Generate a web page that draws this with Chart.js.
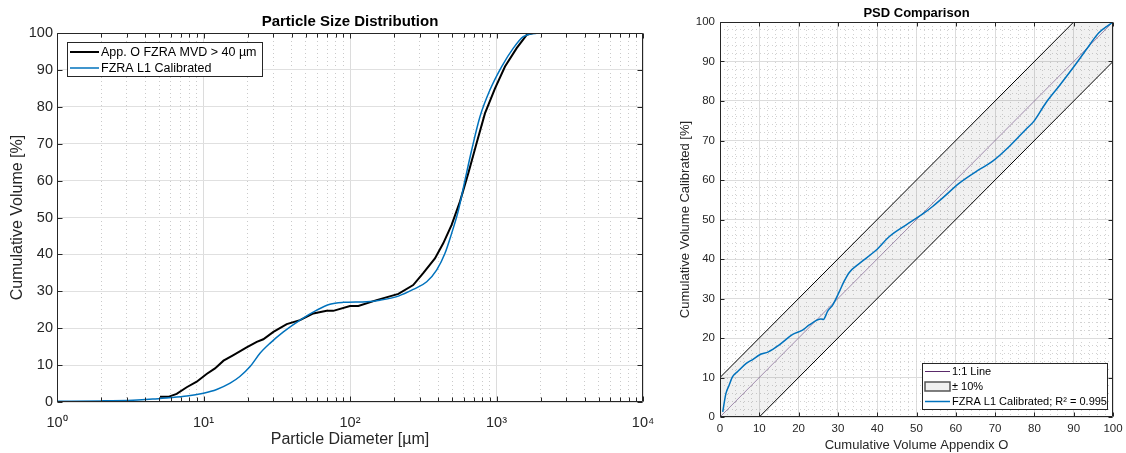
<!DOCTYPE html>
<html>
<head>
<meta charset="utf-8">
<script src="https://cdn.jsdelivr.net/npm/chart.js@4.4.1/dist/chart.umd.min.js"></script>
<style>
html, body { margin: 0; padding: 0; background: #fff; }
.panel { position: absolute; top: 0; height: 453px; }
#leftPanel { left: 0; width: 660px; }
#rightPanel { left: 660px; width: 466px; }
</style>
</head>
<body>
<div class="panel" id="leftPanel"><canvas id="psdChart"></canvas></div>
<div class="panel" id="rightPanel"><canvas id="cmpChart"></canvas></div>
<script>
// ---- left panel: cumulative volume vs particle diameter ----
const appODiameter = [5.05, 5.75, 6.56, 7.68, 8.99, 10.5, 11.98, 13.7, 16.0, 19.7, 23.1, 25.6, 30.0, 37.0, 45.6,
  56.2, 69.3, 76.9, 100, 114, 152, 214, 270, 316, 380, 433, 494, 563, 642, 731, 834, 977, 1143, 1373, 1607, 1783, 2443];
const appOVolume = [1.4, 1.4, 2.2, 4.0, 5.5, 7.6, 9.1, 11.2, 12.7, 14.8, 16.3, 17.0, 19.0, 21.1, 22.2,
  24.0, 24.7, 24.7, 26.0, 26.0, 27.6, 29.3, 31.7, 34.9, 38.9, 43.0, 48.0, 54.3, 62.0, 70.1, 78.2, 85.0, 90.9, 95.9, 99.5, 100, 100];

const calDiameter = [1, 2, 3.3, 4.5, 5.6, 7.7, 10, 12.3, 15.2, 17.7, 20.8, 24.3, 28.4, 35.1, 45.6, 59.3, 73, 90,
  130, 160, 214, 270, 334, 391, 445, 494, 550, 610, 677, 771, 903, 1085, 1303, 1524, 1881, 2443];
const calVolume = [0.2, 0.3, 0.5, 0.8, 1.1, 1.6, 2.4, 3.4, 5.1, 6.9, 9.6, 13.2, 15.9, 19.0, 22.2, 24.9, 26.5, 27.0,
  27.2, 27.6, 28.7, 30.5, 32.6, 35.8, 40.3, 45.7, 52.0, 60.2, 68.3, 77.3, 84.6, 90.9, 95.9, 99.0, 99.9, 100];

// ---- right panel: calibrated vs appendix O ----
const cmpAppendixO = [0.7, 1.5, 2.3, 3.2, 4.5, 6.6, 8.4, 10, 12.3, 15, 18.5, 21, 22.7, 25.7, 26.3, 27.4, 28.7, 30.4,
  31.5, 32.9, 35.5, 39.7, 43.1, 47.3, 51.6, 54.1, 56.6, 60.9, 65.9, 69.3, 73.6, 77.8, 79.9, 82.9, 86.3, 90.5, 93.9, 96.4, 100];
const cmpCalibrated = [1.3, 5.9, 8.0, 10.2, 11.5, 13.5, 14.6, 15.7, 16.5, 18.2, 20.9, 22.0, 23.3, 24.8, 24.7, 26.8, 28.4, 31.8,
  34.2, 36.6, 38.9, 42.2, 45.7, 48.6, 51.4, 53.3, 55.4, 59.2, 62.6, 64.7, 68.5, 72.8, 74.9, 79.5, 83.8, 89.3, 94.0, 97.3, 100];

const refLineX = [0, 100];
const refLineY = [0, 100];
const bandUpperY = [10, 110];
const bandLowerY = [-10, 90];

// ---- ticks ----
const decadeTicks = [1, 10, 100, 1000, 10000];
const decadeLabels = ['10⁰', '10¹', '10²', '10³', '10⁴'];
const pctTicks = [0, 10, 20, 30, 40, 50, 60, 70, 80, 90, 100];

const logTickValues = [];
decadeTicks.slice(0, -1).forEach(d => { for (let m = 1; m < 10; m++) logTickValues.push(m * d); });
logTickValues.push(10000);
const pctMinorTicks = [];
for (let v = 0; v <= 100; v += 2) pctMinorTicks.push(v);

Chart.defaults.font.family = "'Liberation Sans', Arial, Helvetica, sans-serif";
Chart.defaults.color = '#262626';
Chart.defaults.animation = false;

const toXY = (xs, ys) => xs.map((x, i) => ({ x, y: ys[i] }));

// keep plot area exactly where layout padding puts it (no extra room for edge labels)
const noEdgePadding = s => { s.paddingLeft = 0; s.paddingRight = 0; s.paddingTop = 0; s.paddingBottom = 0; };

// Box around the axes with inward tick marks on all four sides (MATLAB look)
const boxFrame = {
    id: 'boxFrame',
    afterDatasetsDraw(chart, args, opts) {
        const { ctx, chartArea: a, scales: { x, y } } = chart;
        const L = Math.round(a.left) + 0.5, R = Math.round(a.right) - 0.5;
        const T = Math.round(a.top) + 0.5, B = Math.round(a.bottom) - 0.5;
        ctx.save();
        ctx.strokeStyle = '#262626';
        ctx.lineWidth = 1;
        ctx.beginPath();
        x.ticks.forEach(t => {
            if (!t.major && !opts.minorTicks) return;
            const len = t.major ? opts.tickLength : opts.minorTickLength;
            const px = Math.round(x.getPixelForValue(t.value)) + 0.5;
            ctx.moveTo(px, B); ctx.lineTo(px, B - len);
            ctx.moveTo(px, T); ctx.lineTo(px, T + len);
        });
        y.ticks.forEach(t => {
            if (!t.major) return;
            const py = Math.round(y.getPixelForValue(t.value)) + 0.5;
            ctx.moveTo(L, py); ctx.lineTo(L + opts.tickLength, py);
            ctx.moveTo(R, py); ctx.lineTo(R - opts.tickLength, py);
        });
        ctx.rect(L, T, R - L, B - T);
        ctx.stroke();
        ctx.restore();
    }
};

// Boxed legend placed inside the plot area
const boxLegend = {
    id: 'boxLegend',
    afterDraw(chart, args, opts) {
        const { ctx, chartArea: a } = chart;
        const x = Math.round(opts.corner === 'topLeft' ? a.left + opts.offsetX : a.right - opts.offsetX - opts.width);
        const y = Math.round(opts.corner === 'topLeft' ? a.top + opts.offsetY : a.bottom - opts.offsetY - opts.height);
        ctx.save();
        ctx.fillStyle = '#fff';
        ctx.fillRect(x, y, opts.width, opts.height);
        ctx.strokeStyle = '#262626';
        ctx.lineWidth = 1;
        ctx.strokeRect(x + 0.5, y + 0.5, opts.width, opts.height);
        ctx.font = opts.fontSize + 'px ' + Chart.defaults.font.family;
        ctx.textBaseline = 'middle';
        ctx.textAlign = 'left';
        opts.items.forEach((item, i) => {
            const ds = chart.data.datasets[item.dataset];
            const cy = y + opts.padTop + opts.rowHeight * (i + 0.5);
            const sx0 = x + opts.sampleStart, sx1 = x + opts.sampleEnd;
            if (item.kind === 'patch') {
                ctx.fillStyle = '#f0f0f0';
                ctx.fillRect(sx0, cy - 4.5, sx1 - sx0, 9);
                ctx.strokeStyle = '#555';
                ctx.lineWidth = 1.5;
                ctx.strokeRect(sx0, cy - 4.5, sx1 - sx0, 9);
            } else {
                ctx.strokeStyle = ds.legendColor || ds.borderColor;
                ctx.lineWidth = ds.borderWidth;
                ctx.beginPath();
                ctx.moveTo(sx0, cy);
                ctx.lineTo(sx1, cy);
                ctx.stroke();
            }
            ctx.fillStyle = '#000';
            ctx.fillText(item.text || ds.label, x + opts.textStart, cy + 0.5);
        });
        ctx.restore();
    }
};

const majorGrid = '#dcdcdc';
const minorGridLeft = '#cacaca';
const minorGridRight = '#d2d2d2';

// 1. Particle Size Distribution (log x)
new Chart(document.getElementById('psdChart'), {
    type: 'line',
    data: {
        datasets: [
            { label: 'App. O FZRA MVD > 40 µm', data: toXY(appODiameter, appOVolume), borderColor: '#000000',
              borderWidth: 2, pointRadius: 0, tension: 0, order: 1 },
            { label: 'FZRA L1 Calibrated', data: toXY(calDiameter, calVolume), borderColor: '#0072bd',
              borderWidth: 1.5, pointRadius: 0, cubicInterpolationMode: 'monotone', order: 0 }
        ]
    },
    options: {
        responsive: true,
        maintainAspectRatio: false,
        events: [],
        layout: { padding: { left: 0, right: 17, top: 0, bottom: 0 } },
        scales: {
            x: {
                type: 'logarithmic', min: 1, max: 10000,
                afterBuildTicks: s => { s.ticks = logTickValues.map(v => ({ value: v, major: decadeTicks.includes(v) })); },
                afterFit: s => { s.height = 51; noEdgePadding(s); },
                grid: { drawTicks: false, color: c => (c.tick && c.tick.major) ? majorGrid : minorGridLeft },
                border: { display: false, dash: c => (c.tick && c.tick.major) ? [] : [1, 3] },
                ticks: {
                    autoSkip: false, maxRotation: 0, padding: 12, font: { size: 14.5 },
                    callback: (v, i, t) => t[i].major ? decadeLabels[decadeTicks.indexOf(v)] : ''
                },
                title: { display: true, text: 'Particle Diameter [µm]', font: { size: 16 }, padding: { top: 0, bottom: 4 } }
            },
            y: {
                min: 0, max: 100,
                afterBuildTicks: s => { s.ticks = pctTicks.map(v => ({ value: v, major: true })); },
                afterFit: s => { s.width = 57; noEdgePadding(s); },
                grid: { drawTicks: false, color: '#e0e0e0' },
                border: { display: false },
                ticks: { padding: 4, font: { size: 14.5 } },
                title: { display: true, text: 'Cumulative Volume [%]', font: { size: 16 }, padding: { top: 7.5, bottom: 0 } }
            }
        },
        plugins: {
            legend: { display: false },
            tooltip: { enabled: false },
            title: {
                display: true, fullSize: false, text: 'Particle Size Distribution', color: '#000',
                font: { size: 15, weight: 'bold' }, padding: { top: 12.5, bottom: 2.5 }
            },
            boxFrame: { tickLength: 5, minorTickLength: 4, minorTicks: true },
            boxLegend: {
                corner: 'topLeft', offsetX: 10, offsetY: 9, width: 195, height: 34,
                padTop: 2, rowHeight: 16, sampleStart: 3, sampleEnd: 32, textStart: 34, fontSize: 12.5,
                items: [{ dataset: 0 }, { dataset: 1 }]
            }
        }
    },
    plugins: [boxFrame, boxLegend]
});

// 2. PSD Comparison (linear, ±10% band)
new Chart(document.getElementById('cmpChart'), {
    type: 'line',
    data: {
        datasets: [
            { label: '1:1 Line', data: toXY(refLineX, refLineY), borderColor: 'rgba(105,70,125,0.6)', legendColor: '#5a2a6a',
              borderWidth: 1, pointRadius: 0, order: 1 },
            { label: '± 10%', data: toXY(refLineX, bandUpperY), borderColor: '#000000', borderWidth: 1, pointRadius: 0, order: 2 },
            { label: '± 10%', data: toXY(refLineX, bandLowerY), borderColor: '#000000', borderWidth: 1, pointRadius: 0,
              fill: '-1', backgroundColor: 'rgba(0,0,0,0.055)', order: 2 },
            { label: 'FZRA L1 Calibrated; R² = 0.995', data: toXY(cmpAppendixO, cmpCalibrated), borderColor: '#0072bd',
              borderWidth: 1.5, pointRadius: 0, cubicInterpolationMode: 'monotone', order: 0 }
        ]
    },
    options: {
        responsive: true,
        maintainAspectRatio: false,
        events: [],
        layout: { padding: { left: 0, right: 13, top: 0, bottom: 0 } },
        scales: {
            x: {
                type: 'linear', min: 0, max: 100,
                afterBuildTicks: s => { s.ticks = pctMinorTicks.map(v => ({ value: v, major: v % 10 === 0 })); },
                afterFit: s => { s.height = 36; noEdgePadding(s); },
                grid: { drawTicks: false, color: c => (c.tick && c.tick.major) ? majorGrid : minorGridRight },
                border: { display: false, dash: c => (c.tick && c.tick.major) ? [] : [1, 3] },
                ticks: {
                    autoSkip: false, maxRotation: 0, padding: 5, font: { size: 11.5 },
                    callback: (v, i, t) => t[i].major ? String(v) : ''
                },
                title: { display: true, text: 'Cumulative Volume Appendix O', font: { size: 13 }, padding: { top: 0, bottom: 0 } }
            },
            y: {
                min: 0, max: 100,
                afterBuildTicks: s => { s.ticks = pctMinorTicks.map(v => ({ value: v, major: v % 10 === 0 })); },
                afterFit: s => { s.width = 60; noEdgePadding(s); },
                grid: { drawTicks: false, color: c => (c.tick && c.tick.major) ? majorGrid : minorGridRight },
                border: { display: false, dash: c => (c.tick && c.tick.major) ? [] : [1, 3] },
                ticks: {
                    autoSkip: false, padding: 5, font: { size: 11.5 },
                    callback: (v, i, t) => t[i].major ? String(v) : ''
                },
                title: { display: true, text: 'Cumulative Volume Calibrated [%]', font: { size: 13 }, padding: { top: 18, bottom: 0 } }
            }
        },
        plugins: {
            legend: { display: false },
            tooltip: { enabled: false },
            title: {
                display: true, fullSize: false, text: 'PSD Comparison', color: '#000',
                font: { size: 13, weight: 'bold' }, padding: { top: 5.5, bottom: 0.9 }
            },
            boxFrame: { tickLength: 4, minorTickLength: 0, minorTicks: false },
            boxLegend: {
                corner: 'bottomRight', offsetX: 6, offsetY: 8, width: 185, height: 46,
                padTop: 1, rowHeight: 15, sampleStart: 3, sampleEnd: 28, textStart: 30, fontSize: 11,
                items: [{ dataset: 0 }, { dataset: 2, kind: 'patch', text: '± 10%' }, { dataset: 3 }]
            }
        }
    },
    plugins: [boxFrame, boxLegend]
});
</script>
</body>
</html>
